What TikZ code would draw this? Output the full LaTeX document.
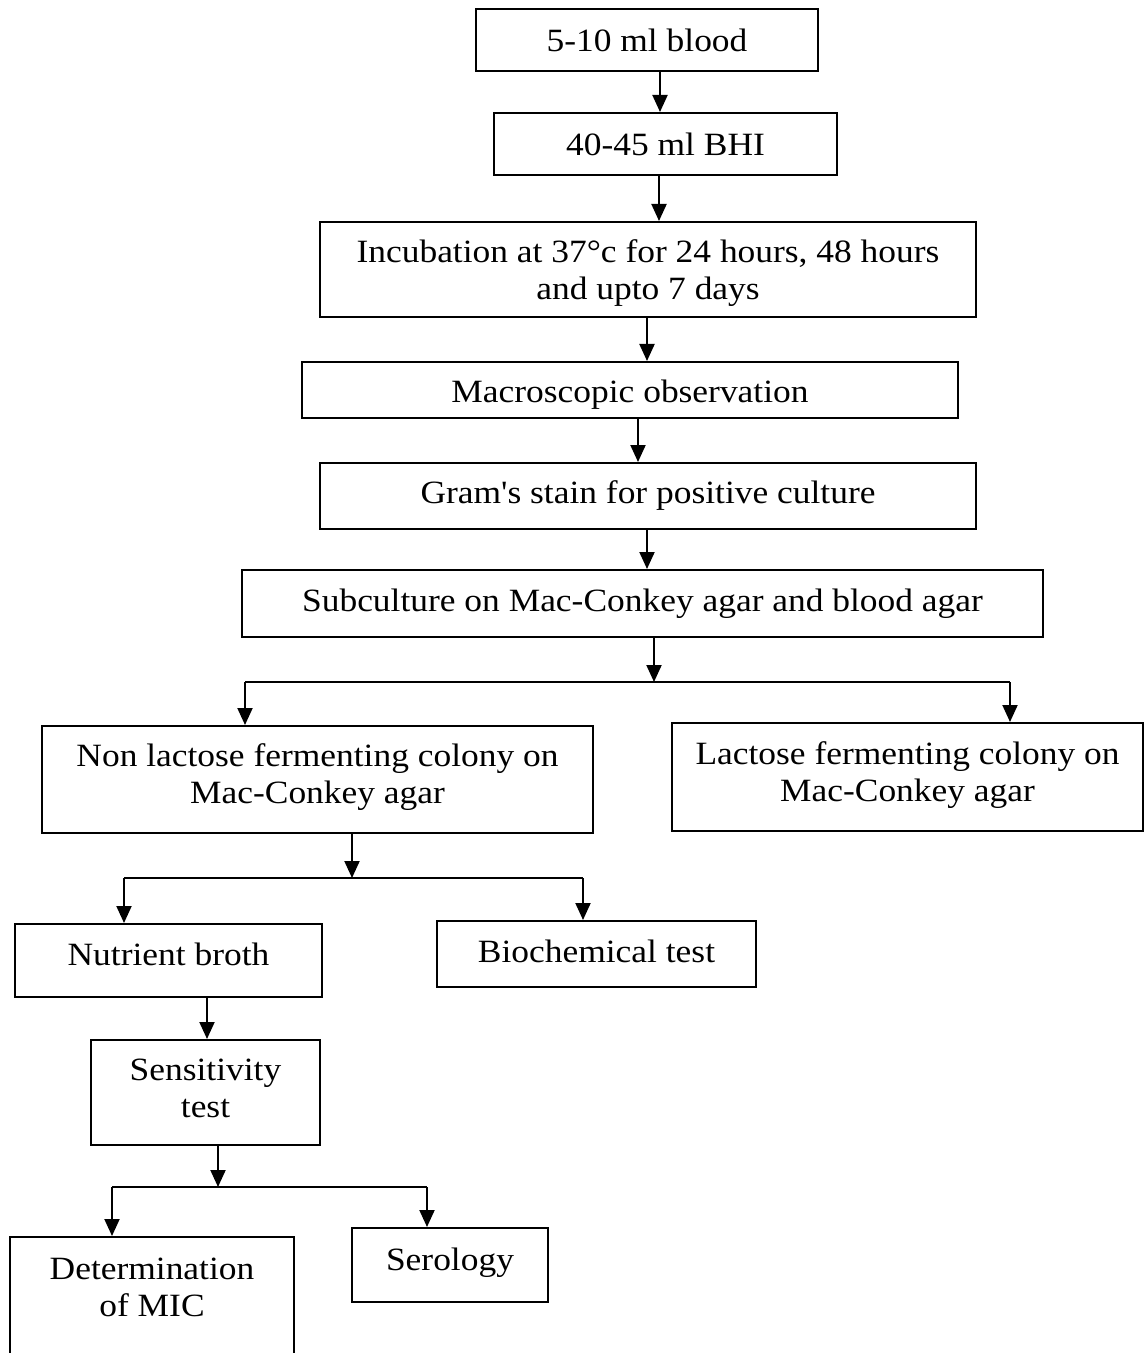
\documentclass[tikz,border=0pt]{standalone}
\usepackage{fontspec}
\newfontfamily\tfont{Liberation Serif}[FakeStretch=1.09]
\usetikzlibrary{arrows.meta}
\begin{document}
\begin{tikzpicture}[x=0.5pt,y=-0.5pt,
  box/.style={draw, line width=1pt, rectangle, inner sep=0pt, align=center,
    font=\tfont\fontsize{16.25pt}{18.5pt}\selectfont},
  arr/.style={line width=1pt, -{Triangle[length=8.5pt,width=7.5pt]}},
  ln/.style={line width=1pt}]
\useasboundingbox (0,0) rectangle (1144,1353);
\clip (0,0) rectangle (1144,1353);
\fill[white] (0,0) rectangle (1144,1353);

\node[box, minimum width=171pt, minimum height=31pt] (b1) at (647,40) {5-10 ml blood};
\node[box, minimum width=171.5pt, minimum height=31pt] (b2) at (665.5,144) {40-45 ml BHI};
\node[box, minimum width=328pt, minimum height=47.5pt] (b3) at (648,269.5) {\rule{0pt}{15pt}Incubation at 37°c for 24 hours, 48 hours\\and upto 7 days};
\node[box, minimum width=328pt, minimum height=28pt] (b4) at (630,390) {\rule{0pt}{16pt}Macroscopic observation};
\node[box, minimum width=328pt, minimum height=33pt] (b5) at (648,496) {Gram's stain for positive culture};
\node[box, minimum width=400.5pt, minimum height=33.5pt] (b6) at (642.5,603.5) {Subculture on Mac-Conkey agar and blood agar};
\node[box, minimum width=275.5pt, minimum height=53.5pt] (b7) at (317.5,779.5) {Non lactose fermenting colony on\\Mac-Conkey agar\\[-12.5pt]};
\node[box, minimum width=235.5pt, minimum height=54pt] (b8) at (907.5,777) {Lactose fermenting colony on\\Mac-Conkey agar\\[-13.5pt]};
\node[box, minimum width=153.5pt, minimum height=36.5pt] (b9) at (168.5,960.5) {Nutrient broth\\[-12.5pt]};
\node[box, minimum width=159.5pt, minimum height=33pt] (b10) at (596.5,954) {Biochemical test\\[-16pt]};
\node[box, minimum width=114.5pt, minimum height=52.5pt] (b11) at (205.5,1092.5) {Sensitivity\\test\\[-14.5pt]};
\node[box, minimum width=142pt, minimum height=68.5pt] (b12) at (152,1305.5) {Determination\\of MIC\\\mbox{}};
\node[box, minimum width=98pt, minimum height=37pt] (b13) at (450,1265) {Serology\\[-13pt]};

\draw[arr] (b1.south -| 660,0) -- (b2.north -| 660,0);
\draw[arr] (b2.south -| 659,0) -- (b3.north -| 659,0);
\draw[arr] (b3.south -| 647,0) -- (b4.north -| 647,0);
\draw[arr] (b4.south -| 638,0) -- (b5.north -| 638,0);
\draw[arr] (b5.south -| 647,0) -- (b6.north -| 647,0);

\coordinate (j1) at (654,682);
\coordinate (j1l) at (245,682);
\coordinate (j1r) at (1010,682);
\draw[arr] (b6.south -| j1) -- (j1);
\draw[ln] (j1l) -- (j1r);
\draw[arr] (j1l) -- (j1l |- b7.north);
\draw[arr] (j1r) -- (j1r |- b8.north);

\coordinate (j2) at (352,878);
\coordinate (j2l) at (124,878);
\coordinate (j2r) at (583,878);
\draw[arr] (b7.south -| j2) -- (j2);
\draw[ln] (j2l) -- (j2r);
\draw[arr] (j2l) -- (j2l |- b9.north);
\draw[arr] (j2r) -- (j2r |- b10.north);

\draw[arr] (b9.south -| 207,0) -- (b11.north -| 207,0);

\coordinate (j3) at (218,1187);
\coordinate (j3l) at (112,1187);
\coordinate (j3r) at (427,1187);
\draw[arr] (b11.south -| j3) -- (j3);
\draw[ln] (j3l) -- (j3r);
\draw[arr] (j3l) -- (j3l |- b12.north);
\draw[arr] (j3r) -- (j3r |- b13.north);
\end{tikzpicture}
\end{document}
